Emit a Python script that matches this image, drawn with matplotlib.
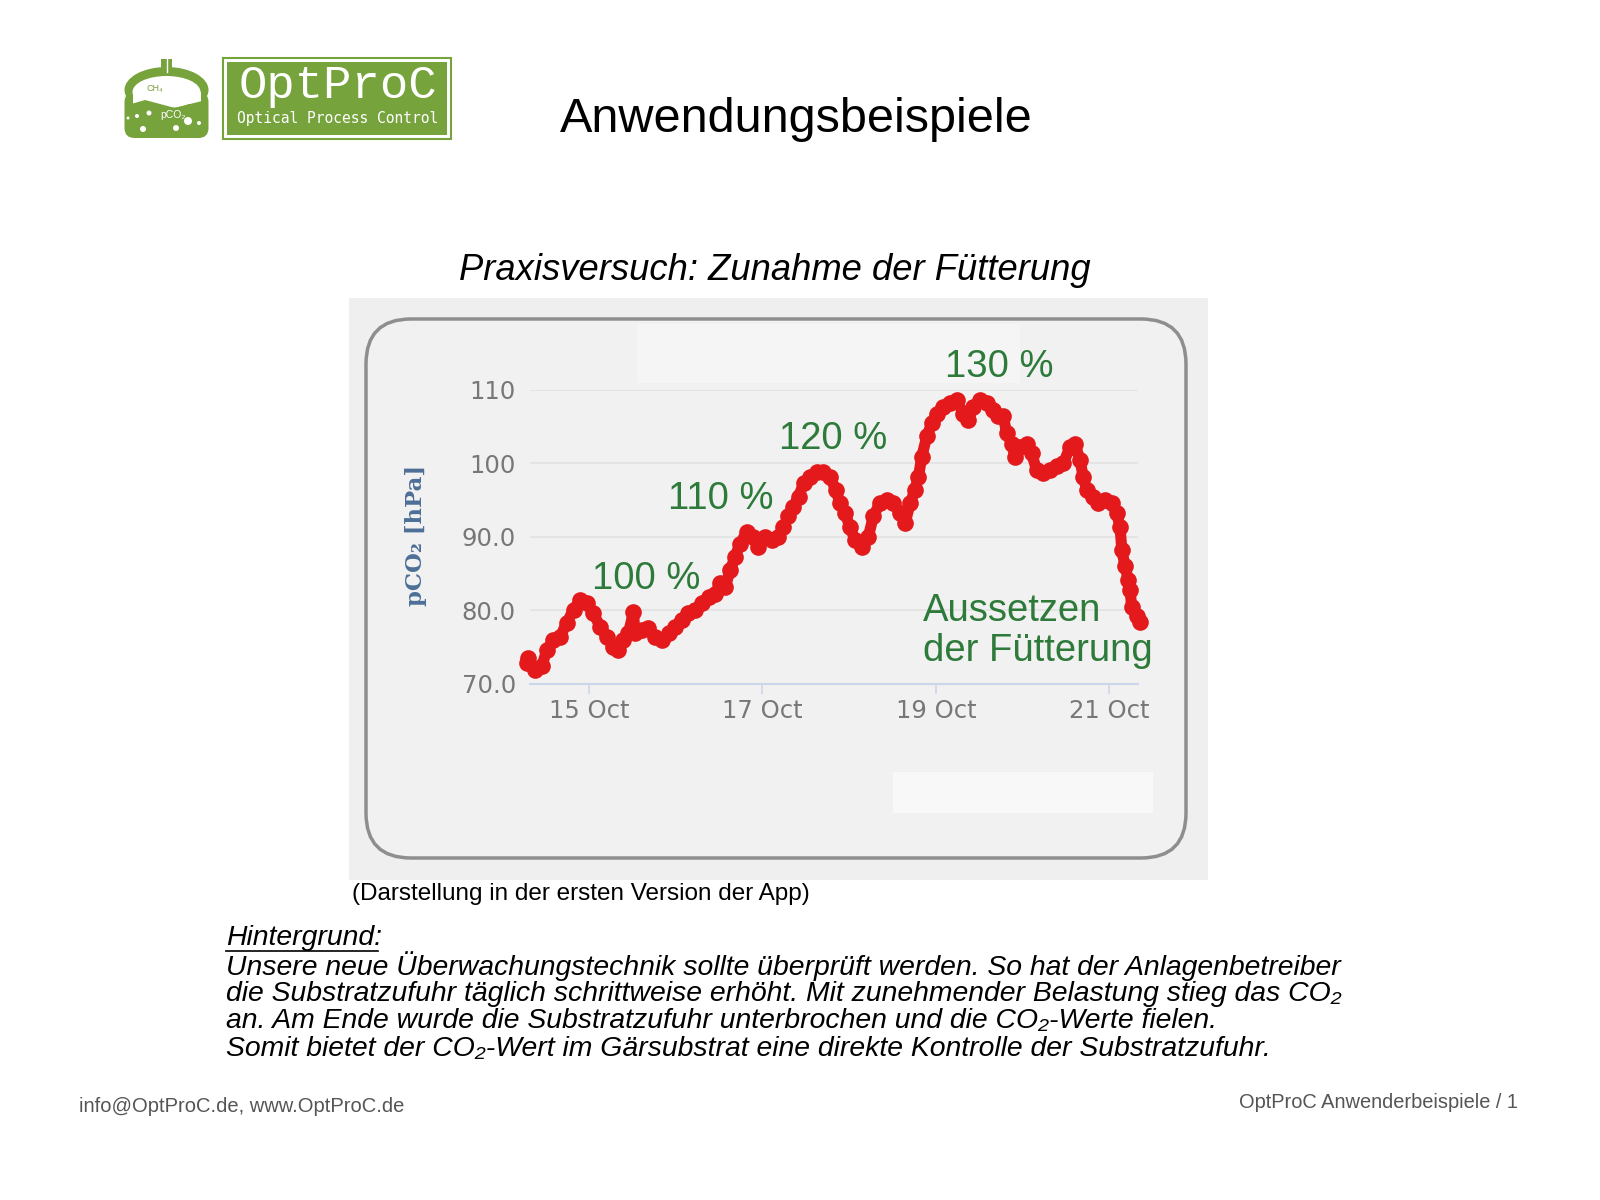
import matplotlib
matplotlib.use("Agg")
import matplotlib.pyplot as plt
import matplotlib.dates as mdates
from matplotlib.patches import FancyBboxPatch, Rectangle, Circle, Ellipse, Polygon
import pandas as pd

# pCO2 readings, hours since 14 Oct 00:00
hours = [6.7, 7.2, 9.0, 10.9, 12.3, 14.1, 16.0, 17.8, 19.7, 21.5, 23.4, 25.2, 27.1, 28.9,
         30.7, 32.1, 33.5, 34.9, 36.3, 36.7, 38.6, 40.4, 42.3, 44.1, 46.0, 47.8, 49.7, 51.5,
         53.4, 55.2, 57.1, 58.9, 60.3, 61.7, 63.1, 64.4, 65.8, 67.7, 69.5, 70.9, 72.7, 74.6,
         76.4, 77.8, 79.2, 80.6, 82.0, 83.4, 85.2, 87.0, 88.9, 90.7, 92.3, 93.5, 94.9, 96.2,
         97.6, 99.5, 101.3, 102.7, 104.5, 106.4, 108.2, 110.1, 111.5, 112.9, 114.2, 115.2,
         116.1, 117.5, 118.9, 120.2, 122.1, 123.9, 125.8, 127.6, 129.0, 130.4, 132.2, 134.1,
         135.9, 137.3, 138.7, 139.6, 141.0, 141.9, 143.3, 145.2, 146.5, 147.9, 149.8, 151.6,
         153.5, 155.3, 157.2, 158.5, 159.9, 160.8, 161.8, 163.6, 165.0, 166.8, 168.7, 170.1,
         171.0, 171.5, 172.4, 173.3, 173.8, 174.2, 175.6, 176.5]
pco2 = [72.8, 73.5, 71.9, 72.4, 74.6, 76.0, 76.4, 78.3, 80.1, 81.4, 81.0, 79.6, 77.8, 76.4,
        75.1, 74.6, 76.0, 76.9, 79.8, 76.9, 77.3, 77.6, 76.4, 76.0, 76.9, 77.8, 78.7, 79.6,
        80.1, 81.0, 81.9, 82.3, 83.7, 83.2, 85.5, 87.3, 89.1, 90.7, 90.0, 88.7, 90.0, 89.6,
        90.0, 91.4, 92.8, 94.1, 95.5, 97.3, 98.2, 98.9, 98.9, 98.2, 96.4, 94.6, 93.2, 91.4,
        89.6, 88.7, 90.0, 92.8, 94.6, 95.0, 94.6, 93.2, 91.9, 94.6, 96.4, 98.2, 100.9, 103.7,
        105.5, 106.8, 107.7, 108.2, 108.6, 106.8, 105.9, 107.7, 108.6, 108.2, 107.3, 106.4,
        106.4, 104.1, 102.7, 100.9, 102.3, 102.7, 101.4, 99.1, 98.7, 99.1, 99.6, 100.0, 102.3,
        102.7, 100.5, 98.2, 96.4, 95.5, 94.6, 95.0, 94.6, 93.2, 91.4, 88.2, 86.0, 84.1, 82.8,
        80.5, 79.2, 78.5]

start = pd.Timestamp("2019-10-14")
tick_days = ["2019-10-15", "2019-10-17", "2019-10-19", "2019-10-21"]
y_ticks = [70, 80, 90, 100, 110]
y_tick_labels = ["70.0", "80.0", "90.0", "100", "110"]
feed_labels = ["100 %", "110 %", "120 %", "130 %"]
stop_label = ["Aussetzen", "der Fütterung"]

background_lines = [
    "Unsere neue Überwachungstechnik sollte überprüft werden. So hat der Anlagenbetreiber",
    "die Substratzufuhr täglich schrittweise erhöht. Mit zunehmender Belastung stieg das CO₂",
    "an. Am Ende wurde die Substratzufuhr unterbrochen und die CO₂-Werte fielen.",
    "Somit bietet der CO₂-Wert im Gärsubstrat eine direkte Kontrolle der Substratzufuhr.",
]

SANS = ["Liberation Sans", "DejaVu Sans"]
RED = "#e3191c"
GREEN_TXT = "#2d7a3a"
LOGO_GREEN = "#76a33c"

times = start + pd.to_timedelta(hours, unit="h")

fig = plt.figure(figsize=(16, 12), dpi=100)
bg = fig.add_axes([0, 0, 1, 1])
bg.set_xlim(0, 1600)
bg.set_ylim(1200, 0)
bg.axis("off")

# --- logo ---
bg.add_patch(Rectangle((161, 59), 11, 16, fc=LOGO_GREEN, ec="none"))
bg.plot([166.5, 166.5], [59, 72], color="white", lw=1)
bg.add_patch(Ellipse((166.5, 90), 84, 46, fc=LOGO_GREEN, ec="none"))
bg.add_patch(FancyBboxPatch((124.5, 92), 84, 46, boxstyle="round,pad=0,rounding_size=10",
                            fc=LOGO_GREEN, ec="none"))
bg.add_patch(Ellipse((166.5, 92), 68, 32, fc="white", ec="none"))
bg.add_patch(Rectangle((132.5, 92), 68, 12, fc="white", ec="none"))
bg.add_patch(Polygon([(131, 104), (145, 100), (160, 104), (175, 108), (190, 104), (202, 101),
                      (202, 112), (131, 112)], fc=LOGO_GREEN, ec="none"))
bg.text(155, 88, "CH₄", fontsize=6.5, color=LOGO_GREEN, ha="center", va="center", family=SANS)
bg.text(173, 115, "pCO₂", fontsize=7.5, color="white", ha="center", va="center", family=SANS)
for cx, cy, r in [(128, 118, 1.5), (137, 116, 2), (149, 113, 2.5), (188, 121, 4),
                  (199, 123, 2), (143, 129, 3), (176, 128, 3)]:
    bg.add_patch(Circle((cx, cy), r, fc="white", ec="none"))

bg.add_patch(Rectangle((223, 58), 228, 81, fc="white", ec=LOGO_GREEN, lw=1.5))
bg.add_patch(Rectangle((227, 62), 220, 73, fc=LOGO_GREEN, ec="none"))
bg.text(338, 86, "OptProC", fontsize=34, color="white", ha="center", va="center",
        family=["Liberation Mono", "DejaVu Sans Mono"])
bg.text(338, 118, "Optical Process Control", fontsize=10.5, color="white", ha="center",
        va="center", family="DejaVu Sans Mono")

# --- titles ---
bg.text(796, 119, "Anwendungsbeispiele", fontsize=35, ha="center", va="center", family=SANS)
bg.text(775, 270, "Praxisversuch: Zunahme der Fütterung", fontsize=26.2, style="italic",
        ha="center", va="center", family=SANS)

# --- screenshot panel ---
bg.add_patch(Rectangle((349, 298), 859, 582, fc="#efefef", ec="none"))
bg.add_patch(FancyBboxPatch((366, 319), 820, 539, boxstyle="round,pad=0,rounding_size=45",
                            fc="#f1f1f1", ec="#8e8e8e", lw=2.5))
bg.add_patch(Rectangle((637, 324), 383, 59, fc="#f5f5f5", ec="none"))
bg.add_patch(Rectangle((893, 772), 260, 41, fc="#f8f8f8", ec="none"))

ax = fig.add_axes([529.8 / 1600, 1 - 684 / 1200, 608.3 / 1600, 294 / 1200])
ax.patch.set_alpha(0)
ax.plot(times, pco2, color=RED, lw=8, marker="o", ms=12, mec=RED, mew=0,
        solid_joinstyle="round", solid_capstyle="round", clip_on=False, zorder=3)
ax.set_xlim(start + pd.Timedelta(hours=7.6), start + pd.Timedelta(hours=176.0))
ax.set_ylim(70, 110)
ax.set_yticks(y_ticks)
ax.set_yticklabels(y_tick_labels)
ax.yaxis.grid(True, color="#e2e2e2", lw=1.2)
ax.set_axisbelow(True)
for s in ["top", "right", "left"]:
    ax.spines[s].set_visible(False)
ax.spines["bottom"].set_color("#ccd6eb")
ax.spines["bottom"].set_linewidth(1.5)
ax.set_xticks(pd.to_datetime(tick_days))
ax.xaxis.set_major_formatter(mdates.DateFormatter("%d %b"))
ax.tick_params(axis="y", length=0, pad=10, labelsize=17.5, labelcolor="#777777")
ax.tick_params(axis="x", length=7, width=1.2, color="#ccd6eb", pad=4, labelsize=17.5,
               labelcolor="#777777")

bg.text(416, 535, "pCO₂ [hPa]", rotation=90, fontsize=16.4, fontweight="bold", color="#4d6f97",
        ha="center", va="center", family="DejaVu Serif")

# annotations live on the chart axes so they sit above its grid lines
for txt, (px, py) in zip(feed_labels, [(646, 579), (721, 499), (833, 439), (999, 367)]):
    ax.text(px, py, txt, fontsize=27.5, color=GREEN_TXT, ha="center", va="center",
            family=SANS, transform=bg.transData, zorder=5)
ax.text(923, 611, stop_label[0], fontsize=27.5, color=GREEN_TXT, ha="left", va="center",
        family=SANS, transform=bg.transData, zorder=5)
ax.text(923, 651, stop_label[1], fontsize=27.5, color=GREEN_TXT, ha="left", va="center",
        family=SANS, transform=bg.transData, zorder=5)

# --- text below ---
bg.text(352, 894, "(Darstellung in der ersten Version der App)", fontsize=17.5, ha="left",
        va="center", family=SANS)
hg = bg.text(226, 938, "Hintergrund:", fontsize=20.4, style="italic", ha="left", va="center",
             family=SANS)
for i, line in enumerate(background_lines):
    bg.text(226, 966 + i * 27.7, line, fontsize=20.4, style="italic", ha="left", va="center",
            family=SANS)

fig.canvas.draw()
bb = hg.get_window_extent()
bg.plot([bb.x0, bb.x1 - 4], [951, 951], color="black", lw=1.2)

bg.text(79, 1106, "info@OptProC.de, www.OptProC.de", fontsize=14.5, color="#555555", ha="left",
        va="center", family=SANS)
bg.text(1518, 1102, "OptProC Anwenderbeispiele / 1", fontsize=14.4, color="#555555", ha="right",
        va="center", family=SANS)

fig.savefig("out.png", dpi=100)
